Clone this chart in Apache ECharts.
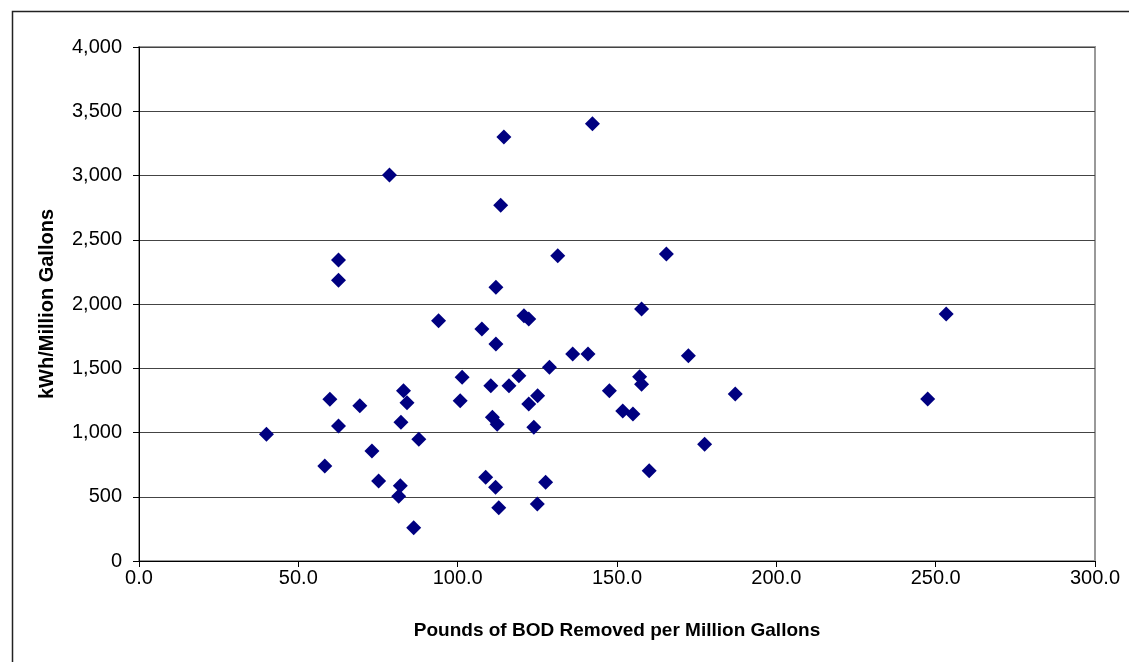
<!DOCTYPE html>
<html>
<head>
<meta charset="utf-8">
<script src="https://cdn.jsdelivr.net/npm/echarts@6/dist/echarts.min.js"></script>
<style>html,body{margin:0;padding:0;background:#fff}#c{width:1129px;height:662px}</style>
</head>
<body>
<div id="c"></div>
<script>
const bodRemoved = [40.0,58.3,59.9,62.6,62.6,62.6,69.3,73.1,75.2,78.6,82.2,82.0,81.5,83.0,84.1,86.2,87.8,94.0,100.8,101.4,107.6,108.8,110.4,110.9,112.4,111.9,112.9,112.0,112.0,113.5,114.5,116.1,119.2,120.8,122.3,122.3,123.9,125.1,125.0,127.6,128.8,131.4,136.1,140.9,142.3,147.6,151.8,155.0,157.1,157.7,157.7,160.1,165.5,172.4,177.5,187.1,247.5,253.3];
const kwhPerMG = [986,740,1258,2342,2185,1051,1209,856,623,3004,1079,586,503,1325,1232,259,947,1870,1247,1430,1805,651,1364,1118,1064,574,415,1689,2130,2768,3300,1364,1442,1909,1883,1222,1040,1286,444,612,1507,2376,1611,1611,3403,1325,1168,1143,1434,1376,1961,703,2390,1598,909,1300,1261,1922];
const xTitle = 'Pounds of BOD Removed per Million Gallons';
const yTitle = 'kWh/Million Gallons';

const points = bodRemoved.map((x, i) => [x, kwhPerMG[i]]);
const chart = echarts.init(document.getElementById('c'), null, {renderer: 'canvas'});
const font = '"Liberation Sans", Arial, sans-serif';
chart.setOption({
  animation: false,
  backgroundColor: '#fff',
  graphic: [{
    type: 'rect', left: 10, top: 9, shape: {width: 1300, height: 800},
    style: {fill: 'none', stroke: '#222', lineWidth: 1.5}, z: -1
  }],
  grid: {left: 139, right: 34, top: 47, bottom: 101, show: true, borderColor: '#999', borderWidth: 2, backgroundColor: 'transparent'},
  xAxis: {
    type: 'value', min: 0, max: 300, interval: 50,
    name: xTitle, nameLocation: 'middle', nameGap: 60,
    nameTextStyle: {fontFamily: font, fontWeight: 'bold', fontSize: 19, color: '#000'},
    axisLine: {show: true, lineStyle: {color: '#000', width: 1}},
    axisTick: {show: true, length: 6, lineStyle: {color: '#000'}},
    axisLabel: {fontFamily: font, fontSize: 20, color: '#000', margin: 7, formatter: v => v.toFixed(1)},
    splitLine: {show: false}
  },
  yAxis: {
    type: 'value', min: 0, max: 4000, interval: 500,
    name: yTitle, nameLocation: 'middle', nameGap: 82, nameRotate: 90,
    nameTextStyle: {fontFamily: font, fontWeight: 'bold', fontSize: 20, color: '#000'},
    axisLine: {show: true, lineStyle: {color: '#000', width: 1}},
    axisTick: {show: true, length: 6, lineStyle: {color: '#000'}},
    axisLabel: {fontFamily: font, fontSize: 20, color: '#000', margin: 17, formatter: v => v.toLocaleString('en-US')},
    splitLine: {show: true, lineStyle: {color: '#444', width: 1}}
  },
  series: [{
    type: 'scatter', data: points, symbol: 'diamond', symbolSize: 15,
    itemStyle: {color: '#000080', opacity: 1}
  }]
});
</script>
</body>
</html>
